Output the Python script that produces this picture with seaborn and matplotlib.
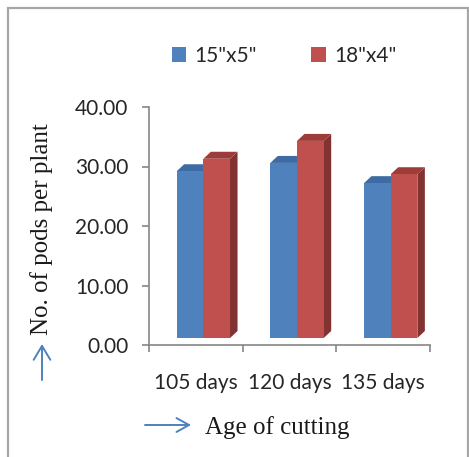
import matplotlib
matplotlib.use("Agg")
import matplotlib.pyplot as plt
from matplotlib.patches import Polygon, Rectangle, FancyArrowPatch
import seaborn as sns
import pandas as pd

# ---- data ----
categories = ["105 days", "120 days", "135 days"]
series = ['15"x5"', '18"x4"']
values_15x5 = [29.2, 30.6, 27.2]
values_18x4 = [31.3, 34.3, 28.7]
yticks = [0, 10, 20, 30, 40]

front_cols = ["#4F81BD", "#C0504D"]
top_cols = ["#3E6BA3", "#9E3C39"]
side_cols = ["#375E8F", "#823230"]

df = pd.DataFrame({
    "Age": categories * 2,
    "Spacing": [series[0]] * 3 + [series[1]] * 3,
    "Pods": values_15x5 + values_18x4,
})

sns.set_theme(style="white")
plt.rcParams["font.family"] = ["Lato", "DejaVu Sans"]

W, H = 469, 457
fig = plt.figure(figsize=(W / 100, H / 100), dpi=100)
ax = fig.add_axes([149 / W, 1 - 345 / H, 281 / W, 238 / H])

sns.barplot(data=df, x="Age", y="Pods", hue="Spacing", palette=front_cols,
            width=0.57, saturation=1, ax=ax, legend=False, errorbar=None)
ax.set_ylim(0, 40)
ax.set_xlim(-0.5, 2.5)

# pixel -> data conversion for the 3D depth
px_x = 281 / 3.0
px_y = 238 / 40.0
depth_dx = 7.5 / px_x
depth_dy = 7.0 / px_y

bars = list(ax.patches)
order = sorted(range(len(bars)), key=lambda i: bars[i].get_x())
z = 3
for i in order:
    b = bars[i]
    col_idx = 0 if b.get_facecolor()[:3] == matplotlib.colors.to_rgb(front_cols[0]) else 1
    x0 = b.get_x() + depth_dx
    w = b.get_width()
    top = b.get_height()
    base = depth_dy
    x1 = x0 + w
    side = Polygon([(x1, base), (x1, top), (x1 + depth_dx, top + depth_dy),
                    (x1 + depth_dx, base + depth_dy)], closed=True,
                   facecolor=side_cols[col_idx], edgecolor="none", zorder=z)
    topf = Polygon([(x0, top), (x1, top), (x1 + depth_dx, top + depth_dy),
                    (x0 + depth_dx, top + depth_dy)], closed=True,
                   facecolor=top_cols[col_idx], edgecolor="none", zorder=z)
    ax.add_patch(side)
    ax.add_patch(topf)
    b.set_x(x0)
    b.set_y(base)
    b.set_height(top - base)
    b.set_edgecolor("none")
    b.set_zorder(z + 0.5)
    z += 1

axis_col = "#868686"
for s in ["top", "right"]:
    ax.spines[s].set_visible(False)
for s in ["left", "bottom"]:
    ax.spines[s].set_color(axis_col)
    ax.spines[s].set_linewidth(1.2)

ax.set_yticks(yticks, labels=[f"{v:.2f}" for v in yticks])
ax.set_xticks([-0.5, 0.5, 1.5, 2.5], labels=[""] * 4)
ax.set_xticks([0, 1, 2], labels=categories, minor=True)
ax.tick_params(axis="y", which="major", direction="out", length=5, width=1.2,
               color=axis_col, labelsize=15, labelcolor="#262626", pad=10, left=True)
ax.tick_params(axis="x", which="major", direction="out", length=5, width=1.2,
               color=axis_col, bottom=True)
ax.tick_params(axis="x", which="minor", length=0, labelsize=15,
               labelcolor="#262626", pad=20)

serif = ["Liberation Serif", "DejaVu Serif"]
ax.set_ylabel("No. of pods per plant", family=serif, fontsize=18, color="#1a1a1a")
ax.yaxis.label.set_va("center")
ax.yaxis.set_label_coords(-0.381, 0.485)
ax.set_xlabel("Age of cutting", family=serif, fontsize=18, color="#1a1a1a")
ax.xaxis.label.set_va("center")
ax.xaxis.set_label_coords(0.4555, -0.345)

# arrows
arrow_col = "#4F81BD"
fig.add_artist(FancyArrowPatch(
    (42 / W, 1 - 380 / H), (42 / W, 1 - 344 / H), transform=fig.transFigure,
    arrowstyle="->,head_length=10,head_width=6", color=arrow_col, lw=1.4,
    mutation_scale=1, shrinkA=0, shrinkB=0))
fig.add_artist(FancyArrowPatch(
    (145 / W, 1 - 425 / H), (191 / W, 1 - 425 / H), transform=fig.transFigure,
    arrowstyle="->,head_length=9,head_width=5", color=arrow_col, lw=1.4,
    mutation_scale=1, shrinkA=0, shrinkB=0))

# legend
handles = [Rectangle((0, 0), 1, 1, facecolor=c, edgecolor="none") for c in front_cols]
fig.legend(handles, series, loc="center", bbox_to_anchor=(284 / W, 1 - 56 / H),
           ncol=2, frameon=False, fontsize=15, handlelength=0.7, handleheight=0.7,
           handletextpad=0.4, columnspacing=2.6, labelcolor="#262626")

# outer frame
fig.add_artist(Rectangle((8 / W, -0.05), (468 - 8) / W, 1.05 - 8 / H,
                         transform=fig.transFigure, fill=False,
                         edgecolor="#A6A6A6", lw=1.6))

fig.savefig("out.png", dpi=100)
